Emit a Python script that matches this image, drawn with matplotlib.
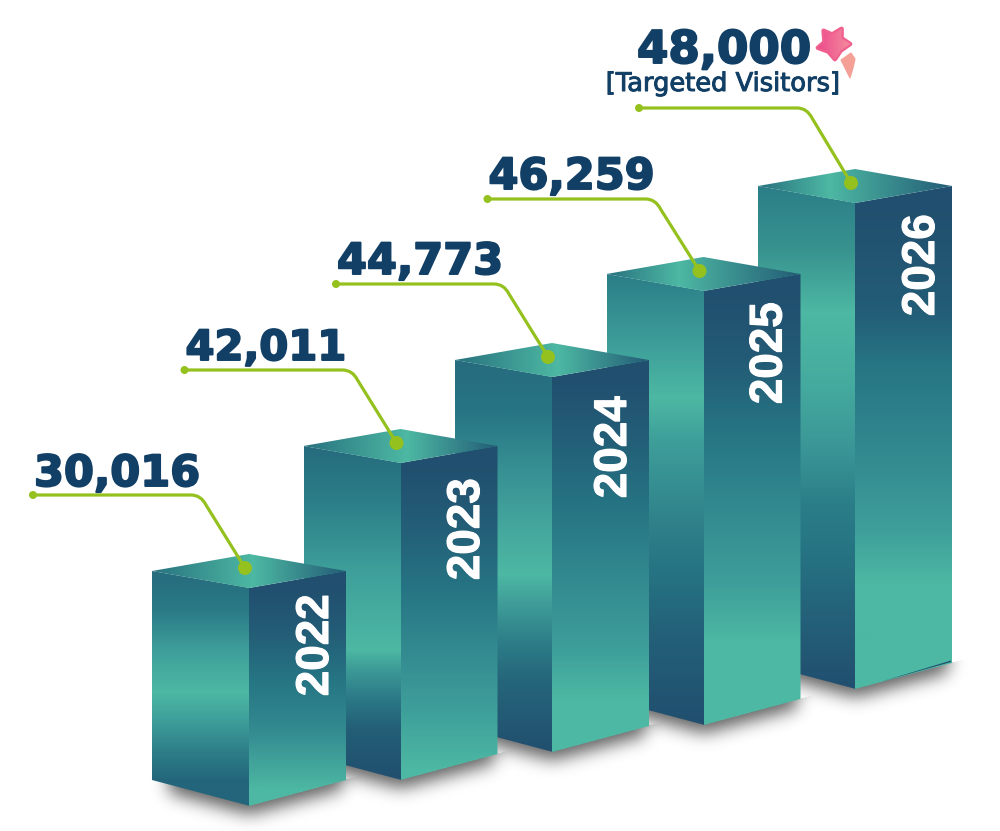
import numpy as np
import matplotlib
matplotlib.use("Agg")
import matplotlib.pyplot as plt
import matplotlib.patheffects as pe
from matplotlib.colors import LinearSegmentedColormap
from matplotlib.patches import Polygon, PathPatch, Circle
from matplotlib.path import Path

# data
years = ["2022", "2023", "2024", "2025", "2026"]
visitors = ["30,016", "42,011", "44,773", "46,259", "48,000"]
bar_heights = [218, 317, 375, 434, 486]
bar_bottoms = [806, 780, 752, 725, 689]
subtitle = "[Targeted Visitors]"

# colours
DARK = "#214F6F"
DEEP = "#235C76"
TEAL = "#267584"
MID = "#338A90"
SOFT = "#3E9F9A"
LIGHT = "#4DB8A3"
GREEN = "#95C11F"
NAVY = "#123F65"

# gradient stops down each face, page y and colour
left_stops = [
    [(571, "#266C7E"), (610, "#2A7A86"), (650, SOFT), (692, LIGHT), (720, SOFT), (750, "#2E8089"), (782, "#23657B")],
    [(447, "#266C7E"), (500, "#2B7E88"), (570, SOFT), (650, LIGHT), (670, "#3C9A96"), (700, "#2B7887"), (730, "#235E76"), (780, DARK)],
    [(361, "#266C7E"), (410, TEAL), (470, "#379093"), (530, "#45A89E"), (575, LIGHT), (600, "#41A09A"), (640, "#2E7F89"), (680, "#25667B"), (752, DARK)],
    [(274, "#2B7E88"), (345, SOFT), (397, LIGHT), (440, SOFT), (490, "#358D91"), (525, "#2F8089"), (567, TEAL), (640, "#235F78"), (725, DARK)],
    [(185, "#2B7E88"), (250, "#38938F"), (312, LIGHT), (382, "#45AB9F"), (449, "#3A9696"), (504, "#2B7E88"), (548, TEAL), (620, "#246079"), (689, DARK)],
]
right_stops = [
    [(588, DARK), (630, DEEP), (680, TEAL), (730, MID), (790, LIGHT)],
    [(463, DARK), (520, DEEP), (590, TEAL), (650, MID), (710, SOFT), (770, LIGHT), (780, LIGHT)],
    [(377, DARK), (430, DEEP), (510, TEAL), (580, MID), (650, SOFT), (700, LIGHT), (752, LIGHT)],
    [(291, DARK), (363, DEEP), (430, TEAL), (511, MID), (585, SOFT), (641, LIGHT), (725, LIGHT)],
    [(203, DARK), (308, DEEP), (363, TEAL), (456, MID), (530, SOFT), (585, LIGHT), (689, LIGHT)],
]
top_peak = [0.52, 0.53, 0.53, 0.37, 0.37]
line_gaps = [59, 59, 59, 58, 61]
label_gaps = [9, 10, 10, 10, 45]
label_sizes = [31, 30, 31, 31, 32.5]
year_dx = [67, 66.5, 62, 66, 67]
year_dy = [57, 66, 70, 62, 62]

W, H = 1000, 831
FIRST_LEFT = 152
STEP = 151.5
HALF = 97
TILT = 17
FOOT = 26


def gradient_fill(ax, pts, stops, z, horizontal=False):
    # stops are (position, colour), position in page coords along the gradient
    pts = np.array(pts, dtype=float)
    vals = pts[:, 0] if horizontal else pts[:, 1]
    stops = list(stops)
    if vals.min() < stops[0][0]:
        stops.insert(0, (vals.min(), stops[0][1]))
    if vals.max() > stops[-1][0]:
        stops.append((vals.max(), stops[-1][1]))
    lo, hi = stops[0][0], stops[-1][0]
    cmap = LinearSegmentedColormap.from_list(
        "g", [((p - lo) / (hi - lo), c) for p, c in stops])
    ramp = np.linspace(0, 1, 512)
    if horizontal:
        im = ax.imshow(ramp[None, :], cmap=cmap, aspect="auto", zorder=z,
                       extent=(lo, hi, pts[:, 1].max(), pts[:, 1].min()))
    else:
        im = ax.imshow(ramp[:, None], cmap=cmap, aspect="auto", zorder=z,
                       extent=(pts[:, 0].min(), pts[:, 0].max(), hi, lo))
    clip = Polygon(pts, closed=True, transform=ax.transData, fc="none", ec="none")
    ax.add_patch(clip)
    im.set_clip_path(clip)


def blur(a, sigma):
    r = int(sigma * 3)
    k = np.exp(-0.5 * (np.arange(-r, r + 1) / sigma) ** 2)
    k /= k.sum()
    a = np.apply_along_axis(lambda v: np.convolve(v, k, mode="same"), 0, a)
    a = np.apply_along_axis(lambda v: np.convolve(v, k, mode="same"), 1, a)
    return a


def shadow(ax, left, centre, right, foot_front, z):
    x0, x1 = int(left - 30), int(right + 30)
    y0, y1 = int(foot_front - FOOT - 50), min(H, int(foot_front + 45))
    xx, yy = np.meshgrid(np.arange(x0, x1), np.arange(y0, y1))
    edge = foot_front - np.abs(xx - centre) / HALF * FOOT
    mask = ((yy < edge + 8) & (yy > edge - 30) & (xx > left + 16) & (xx < right - 4)).astype(float)
    mask = blur(mask, 8.5) * 0.62
    # only below the bottom edges, nothing beside the bar
    mask[yy < edge - 1] = 0
    rgba = np.zeros(mask.shape + (4,))
    rgba[..., 3] = mask
    ax.imshow(rgba, extent=(x0, x1, y1, y0), aspect="auto", zorder=z)


fig = plt.figure(figsize=(W / 100, H / 100), dpi=100)
ax = fig.add_axes([0, 0, 1, 1])

for i, year in enumerate(years):
    z = 10 * (len(years) - i)
    left = FIRST_LEFT + i * STEP
    centre = left + HALF
    right = centre + HALF
    foot = bar_bottoms[i]
    front = foot - bar_heights[i]
    side = front - TILT
    back = side - TILT

    shadow(ax, left, centre, right, foot, z)

    gradient_fill(ax, [(left, side), (centre + 1, front), (centre + 1, foot), (left, foot - FOOT)],
                  left_stops[i], z + 1)
    gradient_fill(ax, [(centre, front), (right, side), (right, foot - FOOT), (centre, foot)],
                  right_stops[i], z + 1.5)
    peak = left + top_peak[i] * (right - left)
    gradient_fill(ax, [(left, side), (centre, back), (right, side), (centre, front)],
                  [(left, "#28727F"), (peak, LIGHT), (right, DEEP)], z + 2, horizontal=True)

    # year on the right face
    ax.text(centre + year_dx[i], front + year_dy[i], year, rotation=90, color="white",
            family="Liberation Sans", weight="bold", fontsize=33,
            ha="center", va="center", zorder=z + 3,
            path_effects=[pe.withStroke(linewidth=0.8, foreground="white")])

    # leader from the label down to the top of the bar
    end = (centre - 4, back + 14)
    line_y = back - line_gaps[i]
    start = (centre - 216, line_y)
    path = Path([start, (start[0] + 158, line_y), (start[0] + 168, line_y),
                 (start[0] + 173, line_y + 10), end],
                [Path.MOVETO, Path.LINETO, Path.CURVE3, Path.CURVE3, Path.LINETO])
    ax.add_patch(PathPatch(path, fc="none", ec=GREEN, lw=2.3, zorder=60, capstyle="round"))
    ax.add_patch(Circle(start, 4, fc=GREEN, ec="none", zorder=61))
    ax.add_patch(Circle(end, 7, fc=GREEN, ec="none", zorder=61))

    ax.text(start[0] + (-2 if i == 4 else 1), line_y - label_gaps[i], visitors[i], color=NAVY,
            family="DejaVu Sans", weight="bold", fontsize=label_sizes[i],
            ha="left", va="baseline", zorder=62,
            path_effects=[pe.withStroke(linewidth=1.4, foreground=NAVY)])

# thin dark sliver under the last bar
ax.add_patch(Polygon([(880, 682), (951, 660.5), (951, 662)], fc=DARK, ec="none", zorder=30))

ax.text(723.5, 84, subtitle, color=NAVY, family="DejaVu Sans",
        fontsize=18.5, ha="center", va="center", zorder=62,
        path_effects=[pe.withStroke(linewidth=0.7, foreground=NAVY)])

# star and its tail
star = np.array([(823, 30), (832, 34), (842, 28), (842, 38), (851, 44), (841, 51), (835, 60),
                 (828, 52), (817, 48), (824, 42)], dtype=float)
star = (star - (834, 44)) * 0.95 + (834, 44)
ax.add_patch(Polygon(star, closed=True, fc="#F0608F", ec="#F0608F", lw=3.2, joinstyle="round", zorder=62))
gradient_fill(ax, star, [(817, "#EC4A8B"), (852, "#F58FA0")], 63, horizontal=True)
ax.add_patch(Polygon([(841, 60), (851, 53), (855, 59), (853, 68), (850, 78), (845, 68)],
                     closed=True, fc="#F5A097", ec="#F5A097", lw=0.8, joinstyle="round", zorder=62))

ax.set_xlim(0, W)
ax.set_ylim(H, 0)
ax.axis("off")
fig.savefig("out.png", dpi=100, facecolor="white")
